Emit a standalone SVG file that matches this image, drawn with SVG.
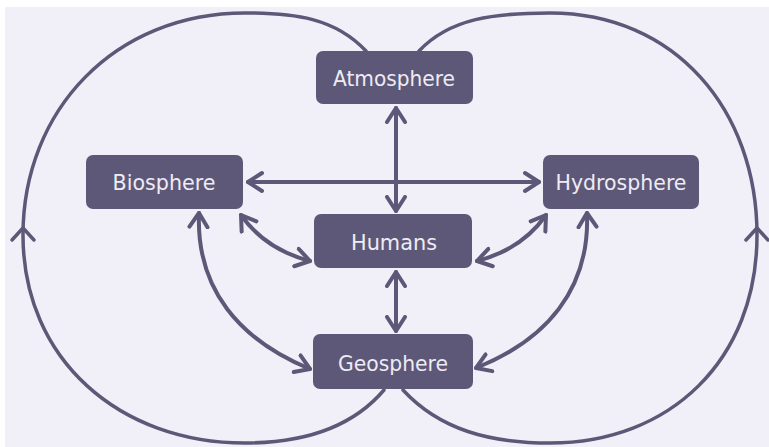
<svg xmlns="http://www.w3.org/2000/svg" width="769" height="447" viewBox="0 0 769 447">
<defs>
<style>
.node rect{fill:#5e5878;}
.node text{fill:#eeebf5;font-family:"DejaVu Sans",Verdana,sans-serif;font-size:22px;text-anchor:middle;}
.conn{fill:none;stroke:#5e5878;stroke-width:4;stroke-linecap:round;stroke-linejoin:round;}
.loop{fill:none;stroke:#5e5878;stroke-width:3.5;stroke-linecap:round;stroke-linejoin:round;}
</style>
<marker id="ah" viewBox="-16 -12 19 24" refX="0" refY="0" markerWidth="19" markerHeight="24" markerUnits="userSpaceOnUse" orient="auto-start-reverse">
<path d="M -14 -9 L 0 0 L -14 9" fill="none" stroke="#5e5878" stroke-width="4" stroke-linecap="round" stroke-linejoin="round"/>
</marker>
</defs>
<rect x="0" y="0" width="769" height="447" fill="#ffffff"/>
<rect x="5" y="7" width="764" height="440" fill="#f1f0f8"/>
<g id="connectors">
<path class="loop" d="M 366 51 C 335 18 295 13 245 13 C 115 13 23 110 23 235 C 23 360 120 443 245 443 C 300 443 350 430 384 390"/>
<path class="loop" d="M 419 51 C 450 18 495 13 550 13 C 675 13 757 110 757 235 C 757 360 670 443 550 443 C 490 443 440 430 403 390"/>
<path class="loop" d="M 12 240 L 23 228 L 34 240"/>
<path class="loop" d="M 746 240 L 757 228 L 768 240"/>
<path class="conn" marker-start="url(#ah)" marker-end="url(#ah)" d="M 396 108 L 396 211"/>
<path class="conn" marker-start="url(#ah)" marker-end="url(#ah)" d="M 248 182 L 539 182"/>
<path class="conn" marker-start="url(#ah)" marker-end="url(#ah)" d="M 396 272 L 396 331"/>
<path class="conn" marker-start="url(#ah)" marker-end="url(#ah)" d="M 241 215 C 255 235 275 252 310 261"/>
<path class="conn" marker-start="url(#ah)" marker-end="url(#ah)" d="M 546 215 C 532 235 512 252 477 261"/>
<path class="conn" marker-start="url(#ah)" marker-end="url(#ah)" d="M 199 213 C 196 290 240 340 310 369"/>
<path class="conn" marker-start="url(#ah)" marker-end="url(#ah)" d="M 587 213 C 590 290 546 340 476 368"/>
</g>
<g id="atmosphere" class="node"><rect x="316" y="51" width="157" height="53" rx="7"/><text x="394" y="86" textLength="122" lengthAdjust="spacingAndGlyphs">Atmosphere</text></g>
<g id="biosphere" class="node"><rect x="86" y="155" width="157" height="54" rx="7"/><text x="164" y="190" textLength="103" lengthAdjust="spacingAndGlyphs">Biosphere</text></g>
<g id="hydrosphere" class="node"><rect x="543" y="155" width="156" height="54" rx="7"/><text x="621" y="190" textLength="131" lengthAdjust="spacingAndGlyphs">Hydrosphere</text></g>
<g id="humans" class="node"><rect x="314" y="214" width="158" height="54" rx="7"/><text x="394" y="250" textLength="86" lengthAdjust="spacingAndGlyphs">Humans</text></g>
<g id="geosphere" class="node"><rect x="313" y="334" width="160" height="55" rx="7"/><text x="393" y="371" textLength="110" lengthAdjust="spacingAndGlyphs">Geosphere</text></g>
</svg>
